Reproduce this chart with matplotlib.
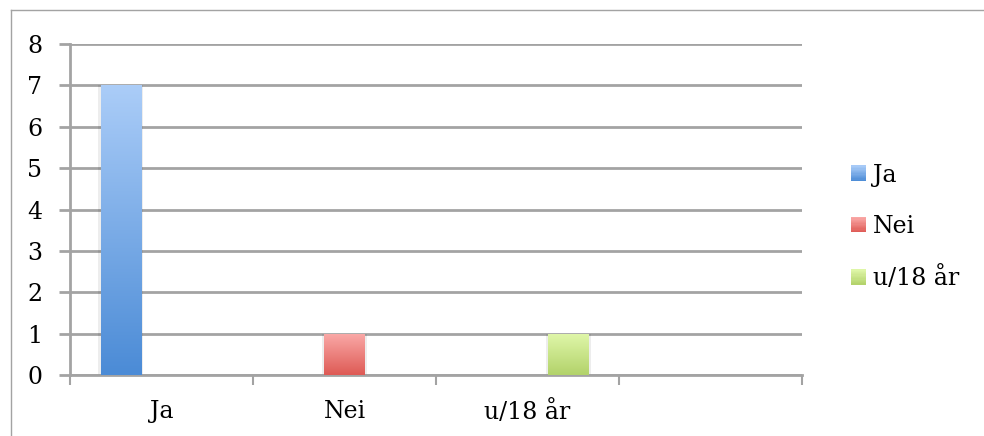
import numpy as np
import matplotlib.pyplot as plt
from matplotlib.colors import LinearSegmentedColormap
from matplotlib.patches import Rectangle
from matplotlib.lines import Line2D
from matplotlib.legend_handler import HandlerBase

categories = ["Ja", "Nei", "u/18 år", ""]
series = ["Ja", "Nei", "u/18 år"]
ja = [7, 0, 0, 0]
nei = [0, 1, 0, 0]
u18 = [0, 0, 1, 0]

# (top, bottom) colours for the gradient fill of each series
fills = [("#abcdf8", "#4b8bd6"), ("#faaaa8", "#de5a55"), ("#e0f7aa", "#b2d26a")]

plt.rcParams["font.family"] = ["DejaVu Serif"]
plt.rcParams["font.size"] = 17

grid_col = "#a3a3a3"


class GradientHandler(HandlerBase):
    """Legend key drawn as a small vertical gradient square."""
    def create_artists(self, legend, orig_handle, xd, yd, width, height, fontsize, trans):
        cmap = orig_handle.cmap
        n = 12
        arts = []
        for i in range(n):
            r = Rectangle((-xd, -yd + height * i / n), width, height / n + 0.3,
                          facecolor=cmap((i + 0.5) / n), edgecolor="none", transform=trans)
            arts.append(r)
        return arts


fig = plt.figure(figsize=(9.84, 4.36), dpi=100)
ax = fig.add_axes([70 / 984, 61 / 436, 732 / 984, 331 / 436])

# outer chart frame
fig.add_artist(Line2D([11 / 984, 1], [1 - 10 / 436] * 2, color=grid_col, lw=1,
                      transform=fig.transFigure))
fig.add_artist(Line2D([11 / 984] * 2, [0, 1 - 10 / 436], color=grid_col, lw=1,
                      transform=fig.transFigure))

x = np.arange(len(categories)) + 0.5
w = 0.222
offsets = [-w, 0, w]

handles = []
for vals, off, (top, bot), name in zip([ja, nei, u18], offsets, fills, series):
    cmap = LinearSegmentedColormap.from_list(name, [bot, top])
    grad = np.linspace(0, 1, 256).reshape(-1, 1)
    bars = ax.bar(x + off, vals, w, facecolor="none", edgecolor="none", zorder=3)
    for b in bars:
        if b.get_height() <= 0:
            continue
        bx, bw, bh = b.get_x(), b.get_width(), b.get_height()
        # faint shadow behind the bar
        ax.add_patch(Rectangle((bx - 0.012, 0), bw + 0.024, bh, facecolor="black",
                               alpha=0.07, edgecolor="none", zorder=2.5))
        im = ax.imshow(grad, extent=[bx, bx + bw, 0, bh], origin="lower",
                       cmap=cmap, aspect="auto", zorder=3, interpolation="bilinear")
        im.set_clip_path(b)
    h = Rectangle((0, 0), 1, 1)
    h.cmap = cmap
    handles.append(h)

ax.set_xlim(0, 4)
ax.set_ylim(0, 8)
ax.set_yticks(range(0, 9))
ax.yaxis.grid(True, color=grid_col, lw=2)
ax.set_axisbelow(True)

ax.set_xticks(range(0, 5))
ax.set_xticklabels([])
ax.set_xticks(x, categories, minor=True)
ax.tick_params(axis="x", which="major", length=7, width=1.5, color=grid_col, direction="out")
ax.tick_params(axis="x", which="minor", length=0, pad=18)
ax.tick_params(axis="y", length=8, width=2, color=grid_col, pad=12)

for s in ["top", "right"]:
    ax.spines[s].set_visible(False)
for s in ["left", "bottom"]:
    ax.spines[s].set_color(grid_col)
    ax.spines[s].set_linewidth(2)

fig.legend(handles, series, loc="center left", bbox_to_anchor=(851 / 984, 1 - 227 / 436),
           frameon=False, borderpad=0, borderaxespad=0, handlelength=0.64,
           handleheight=0.61, handletextpad=0.3, labelspacing=1.2,
           handler_map={Rectangle: GradientHandler()})

fig.savefig("out.png", dpi=100)
